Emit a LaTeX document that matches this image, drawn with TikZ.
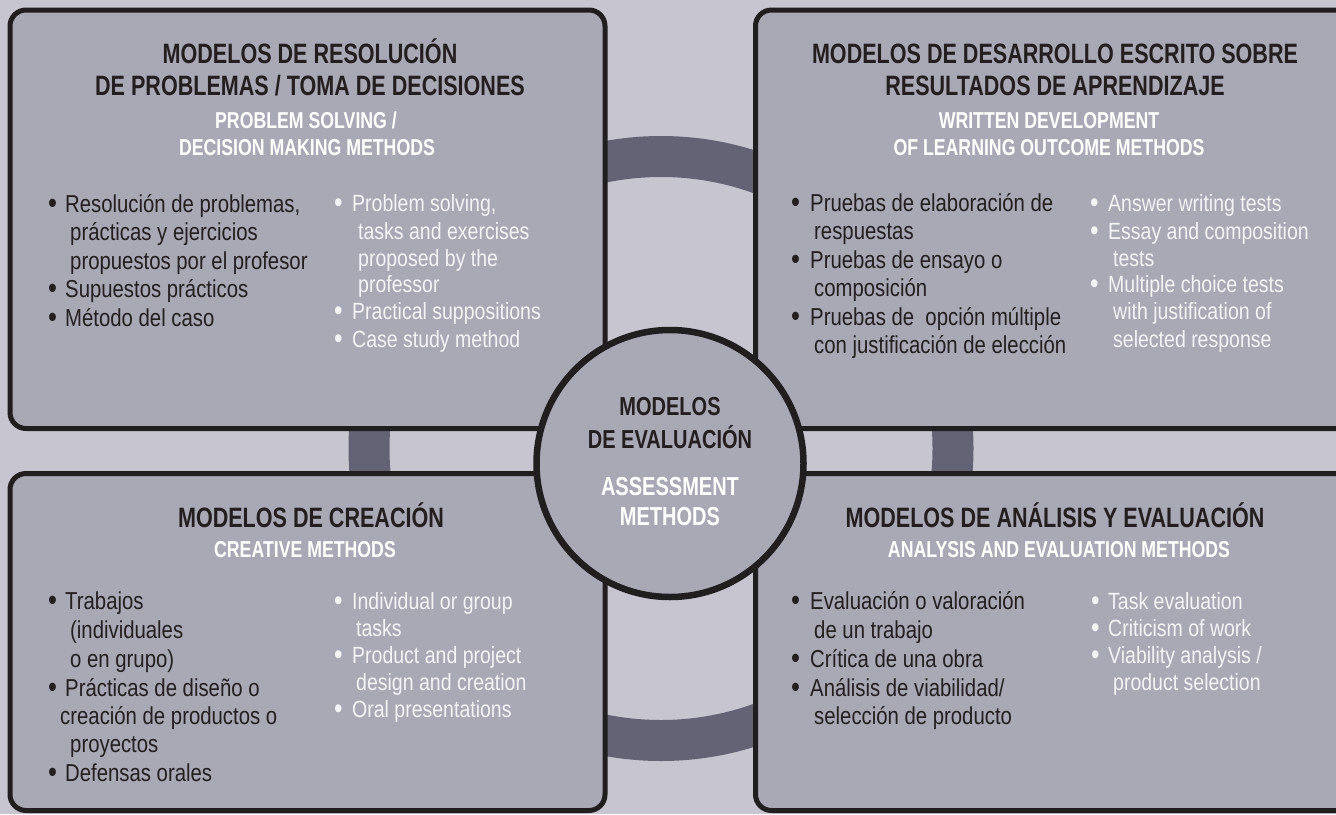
\documentclass[tikz,border=0pt]{standalone}
\usepackage{fontspec}
\setmainfont{Liberation Sans}
\newfontfamily\hfont{Liberation Sans}[FakeStretch=0.77]
\newfontfamily\rfont{Liberation Sans}[FakeStretch=0.83]
\definecolor{bgc}{HTML}{C6C5D0}
\definecolor{boxc}{HTML}{A9A8B5}
\definecolor{ringc}{HTML}{646376}
\definecolor{edgec}{HTML}{211E1F}
\definecolor{darkt}{HTML}{231F20}
\definecolor{lightt}{HTML}{F4F4F7}
\newcommand\bul[1]{\makebox[#1pt][l]{\raisebox{-1.2pt}{\scalebox{1.25}{\textbullet}}}}
\tikzset{
  box/.style={draw=edgec, fill=boxc, line width=5pt, rounded corners=16pt, inner sep=0pt},
  hs/.style={font=\hfont\bfseries\fontsize{28}{32}\selectfont, text=darkt, anchor=base, inner sep=0pt},
  he/.style={font=\hfont\bfseries\fontsize{23}{27}\selectfont, text=white, anchor=base, inner sep=0pt},
  cs/.style={font=\hfont\bfseries\fontsize{26}{30}\selectfont, text=darkt, anchor=base, inner sep=0pt},
  ce/.style={font=\hfont\bfseries\fontsize{26}{30}\selectfont, text=white, anchor=base, inner sep=0pt},
  bs/.style={font=\rfont\fontsize{24.5}{28}\selectfont, text=darkt, anchor=base west, inner sep=0pt},
  be/.style={font=\rfont\fontsize{23.5}{27}\selectfont, text=lightt, anchor=base west, inner sep=0pt},
}
\begin{document}
\begin{tikzpicture}[x=1pt,y=-1pt]
\useasboundingbox (0,0) rectangle (1336,814);
\clip (0,0) rectangle (1336,814);
\fill[bgc] (0,0) rectangle (1336,814);
% ring behind
\draw[ringc, line width=41pt] (661,448.5) circle (292pt);
% boxes
\node[box, minimum width=595pt, minimum height=418.5pt] (tl) at (307.5,219.25) {};
\node[box, minimum width=604.5pt, minimum height=418.5pt] (tr) at (1057.75,219.25) {};
\node[box, minimum width=595pt, minimum height=337pt] (bl) at (307.5,642) {};
\node[box, minimum width=604.5pt, minimum height=337pt] (br) at (1057.75,642) {};
% centre circle
\node[circle, draw=edgec, fill=boxc, line width=6.5pt, minimum size=267pt, inner sep=0pt] (c) at (670,463.5) {};
\node[cs] (c1) at (670,415) {MODELOS};
\node[cs] (c2) at (670,448) {DE EVALUACIÓN};
\node[ce] (c3) at (670,495) {ASSESSMENT};
\node[ce] (c4) at (670,525) {METHODS};
% ---- top left
\node[hs] (tlh1) at (310,63) {MODELOS DE RESOLUCIÓN};
\node[hs] (tlh2) at (310,95) {DE PROBLEMAS / TOMA DE DECISIONES};
\node[he] (tle1) at (306,128) {PROBLEM SOLVING /};
\node[he] (tle2) at (307,155) {DECISION MAKING METHODS};
\node[bs] (tls1) at (48,212) {\bul{17}Resolución de problemas,};
\node[bs] (tls2) at (70,240.5) {prácticas y ejercicios};
\node[bs] (tls3) at (70,269) {propuestos por el profesor};
\node[bs] (tls4) at (48,297.5) {\bul{17}Supuestos prácticos};
\node[bs] (tls5) at (48,326) {\bul{17}Método del caso};
\node[be] (tle3) at (334,211) {\bul{18}Problem solving,};
\node[be] (tle4) at (358,239) {tasks and exercises};
\node[be] (tle5) at (358,266) {proposed by the};
\node[be] (tle6) at (358,292.5) {professor};
\node[be] (tle7) at (334,319.5) {\bul{18}Practical suppositions};
\node[be] (tle8) at (334,347) {\bul{18}Case study method};
% ---- top right
\node[hs] (trh1) at (1055,63) {MODELOS DE DESARROLLO ESCRITO SOBRE};
\node[hs] (trh2) at (1055,95) {RESULTADOS DE APRENDIZAJE};
\node[he] (tre1) at (1049,128) {WRITTEN DEVELOPMENT};
\node[he] (tre2) at (1049,155) {OF LEARNING OUTCOME METHODS};
\node[bs] (trs1) at (791,211) {\bul{19}Pruebas de elaboración de};
\node[bs] (trs2) at (814,239.5) {respuestas};
\node[bs] (trs3) at (791,268) {\bul{19}Pruebas de ensayo o};
\node[bs] (trs4) at (814,296.5) {composición};
\node[bs] (trs5) at (791,325) {\bul{19}Pruebas de~ opción múltiple};
\node[bs] (trs6) at (814,353.5) {con justificación de elección};
\node[be] (tre3) at (1090,211) {\bul{18}Answer writing tests};
\node[be] (tre4) at (1090,239) {\bul{18}Essay and composition};
\node[be] (tre5) at (1113,266) {tests};
\node[be] (tre6) at (1090,292.5) {\bul{18}Multiple choice tests};
\node[be] (tre7) at (1113,319.5) {with justification of};
\node[be] (tre8) at (1113,347) {selected response};
% ---- bottom left
\node[hs] (blh1) at (311,527) {MODELOS DE CREACIÓN};
\node[he] (ble1) at (305,557) {CREATIVE METHODS};
\node[bs] (bls1) at (48,609) {\bul{17}Trabajos};
\node[bs] (bls2) at (70,638) {(individuales};
\node[bs] (bls3) at (70,667) {o en grupo)};
\node[bs] (bls4) at (48,696) {\bul{17}Prácticas de diseño o};
\node[bs] (bls5) at (60,724) {creación de productos o};
\node[bs] (bls6) at (70,752) {proyectos};
\node[bs] (bls7) at (48,781) {\bul{17}Defensas orales};
\node[be] (ble2) at (334,609) {\bul{18}Individual or group};
\node[be] (ble3) at (356,636) {tasks};
\node[be] (ble4) at (334,663) {\bul{18}Product and project};
\node[be] (ble5) at (356,690) {design and creation};
\node[be] (ble6) at (334,717) {\bul{18}Oral presentations};
% ---- bottom right
\node[hs] (brh1) at (1055,527) {MODELOS DE ANÁLISIS Y EVALUACIÓN};
\node[he] (bre1) at (1059,557) {ANALYSIS AND EVALUATION METHODS};
\node[bs] (brs1) at (791,609) {\bul{19}Evaluación o valoración};
\node[bs] (brs2) at (814,638) {de un trabajo};
\node[bs] (brs3) at (791,667) {\bul{19}Crítica de una obra};
\node[bs] (brs4) at (791,696) {\bul{19}Análisis de viabilidad/};
\node[bs] (brs5) at (814,724) {selección de producto};
\node[be] (bre2) at (1091,609) {\bul{17}Task evaluation};
\node[be] (bre3) at (1091,636) {\bul{17}Criticism of work};
\node[be] (bre4) at (1091,663.5) {\bul{17}Viability analysis /};
\node[be] (bre5) at (1113,690.5) {product selection};
\end{tikzpicture}
\end{document}
